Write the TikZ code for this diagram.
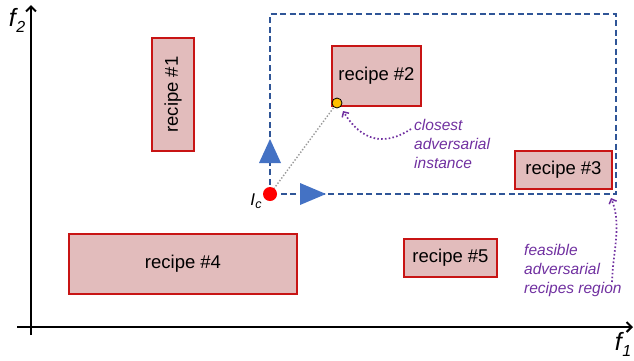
\documentclass[tikz,border=0pt]{standalone}
\usepackage{fontspec}
\setmainfont{Liberation Sans}
\usetikzlibrary{arrows.meta}

\definecolor{recipefill}{RGB}{226,188,188}
\definecolor{recipeedge}{RGB}{200,20,20}
\definecolor{regionblue}{RGB}{47,85,151}
\definecolor{triblue}{RGB}{68,114,196}
\definecolor{notepurple}{RGB}{112,48,160}
\definecolor{dotorange}{RGB}{255,192,0}

\tikzset{
  recipe/.style={draw=recipeedge, fill=recipefill, line width=1.2pt,
    inner sep=0pt, font=\fontsize{18.5}{22}\selectfont},
  axis/.style={line width=2.4pt, black},
  axistip/.style={-{Straight Barb[length=5pt,width=10pt,line width=2pt]}},
  region/.style={regionblue, line width=1.8pt, dash pattern=on 6pt off 3.5pt},
  marker/.style={fill=triblue, draw=none},
  note/.style={notepurple, font=\fontsize{15.5}{19}\selectfont\itshape,
    align=left, inner sep=0pt, anchor=north west},
  notearrow/.style={notepurple, line width=1.7pt, dash pattern=on 1.6pt off 2.2pt,
    -{Straight Barb[length=4pt,width=8pt,line width=1.5pt]}},
  axislabel/.style={font=\fontsize{25}{28}\selectfont\itshape, inner sep=0pt}
}

\begin{document}
\begin{tikzpicture}[x=1pt,y=-1pt]
\useasboundingbox (0,0) rectangle (634,360);

% axes
\coordinate (xo) at (17,327);
\coordinate (xe) at (633,327);
\coordinate (yo) at (31,335);
\coordinate (ye) at (31,5);
\draw[axis,axistip] (xo) -- (xe);
\draw[axis,axistip] (yo) -- (ye);
\node[axislabel] (f2) at (17,20) {f\kern0.5pt\raisebox{-6pt}{\fontsize{16}{18}\selectfont 2}};
\node[axislabel] (f1) at (623,344) {f\kern0.5pt\raisebox{-6pt}{\fontsize{16}{18}\selectfont 1}};

% recipes
\node[recipe, minimum width=42pt, minimum height=113pt] (r1) at (173,94.5)
  {\rotatebox{90}{recipe \#1}};
\node[recipe, minimum width=89pt, minimum height=60pt] (r2) at (376.5,76) {recipe \#2};
\node[recipe, minimum width=97pt, minimum height=38pt] (r3) at (563.5,170) {recipe \#3};
\node[recipe, minimum width=228pt, minimum height=60pt] (r4) at (183,264) {recipe \#4};
\node[recipe, minimum width=93pt, minimum height=38pt] (r5) at (450.5,258) {recipe \#5};

% feasible region bounded from the current instance
\coordinate (ic) at (270,194);
\coordinate (rtl) at (270,14);
\coordinate (rtr) at (616,14);
\coordinate (rbr) at (616,194);
\draw[region] (ic) -- (rtl) -- (rtr) -- (rbr) -- cycle;

% direction markers
\fill[marker] (270,139) -- (281,163) -- (259,163) -- cycle;
\fill[marker] (326,194) -- (300,183) -- (300,205) -- cycle;

% closest adversarial point
\coordinate (adv) at (337,103);
\draw[gray!80, line width=1.4pt, dash pattern=on 1.4pt off 1.8pt] (ic) -- (adv);
\node[circle, fill=dotorange, draw=black, line width=0.8pt, minimum size=10pt, inner sep=0pt] (advdot) at (adv) {};
\node[circle, fill=red, minimum size=14pt, inner sep=0pt] (icdot) at (ic) {};
\node[font=\fontsize{17}{20}\selectfont\itshape, inner sep=0pt] (iclabel) at (256,201)
  {I\kern0.3pt\raisebox{-3.5pt}{\fontsize{12.5}{14}\selectfont c}};

% annotations
\node[note] (closest) at (414,119) {closest\\adversarial\\instance};
\node[note] (feasible) at (524,244) {feasible\\adversarial\\recipes region};

\coordinate (c1s) at (411,129);
\coordinate (c2s) at (612,282);
\draw[notearrow] (c1s) .. controls (385,146) and (362,142) .. (343,111);
\draw[notearrow] (c2s) .. controls (613,250) and (622,225) .. (611,198);
\end{tikzpicture}
\end{document}
